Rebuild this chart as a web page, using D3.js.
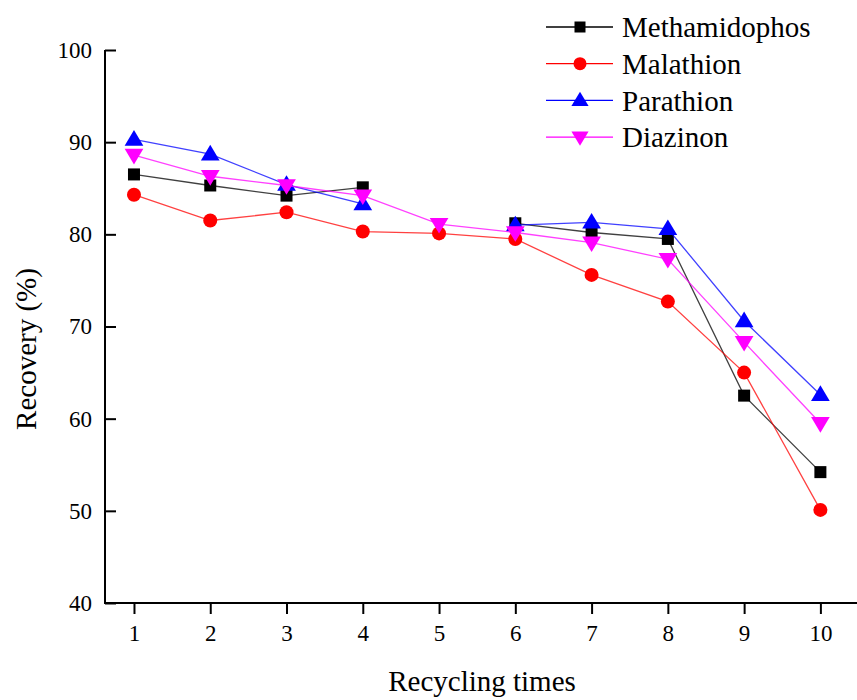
<!DOCTYPE html>
<html>
<head>
<meta charset="utf-8">
<title>Recovery vs recycling times</title>
<script src="https://d3js.org/d3.v7.min.js"></script>
<style>
  body { margin: 0; background: #fff; }
  svg text { font-family: "Liberation Serif", "Times New Roman", serif; fill: #000; }
  svg .tick text { font-size: 23px; }
</style>
</head>
<body>
<div id="chart"></div>
<script>
// values (null = no point plotted)
var cycles = [1, 2, 3, 4, 5, 6, 7, 8, 9, 10];
var methamidophos = [86.5, 85.3, 84.2, 85.1, null, 81.2, 80.2, 79.5, 62.5, 54.2];
var malathion     = [84.3, 81.5, 82.4, 80.3, 80.1, 79.5, 75.6, 72.7, 65.0, 50.1];
var parathion     = [90.3, 88.7, 85.4, 83.3, null, 81.0, 81.3, 80.6, 70.6, 62.6];
var diazinon      = [88.6, 86.3, 85.3, 84.2, 81.1, 80.2, 79.1, 77.3, 68.3, 59.5];
var yTicks = [40, 50, 60, 70, 80, 90, 100];

var series = [
  {name: "Methamidophos", values: methamidophos, color: "#000000", shape: "square"},
  {name: "Malathion",     values: malathion,     color: "#ff0000", shape: "circle"},
  {name: "Parathion",     values: parathion,     color: "#0000ff", shape: "up"},
  {name: "Diazinon",      values: diazinon,      color: "#ff00ff", shape: "down"}
];

var width = 857, height = 700;
var svg = d3.select("#chart").append("svg")
    .attr("width", width).attr("height", height);

var x = d3.scaleLinear().domain([0.62, 10.48]).range([105, 857]);
var y = d3.scaleLinear().domain([40, 100]).range([603, 50]);

// axes
var xAxis = d3.axisBottom(x).tickValues(cycles).tickSize(11).tickSizeOuter(0).tickPadding(11);
var yAxis = d3.axisLeft(y).tickValues(yTicks).tickSize(-11).tickSizeOuter(0).tickPadding(13);

var gx = svg.append("g").attr("transform", "translate(0,603)").call(xAxis);
var gy = svg.append("g").attr("transform", "translate(105,0)").call(yAxis);
[gx, gy].forEach(function(g) {
  g.attr("font-size", 23).attr("font-family", null);
  g.selectAll("path, line").attr("stroke", "#000").attr("stroke-width", 2);
  g.selectAll("text").attr("font-size", 23).attr("fill", "#000");
});
gx.select(".domain").attr("d", "M104,0H" + width);
gy.select(".domain").attr("d", "M0,50V604");

svg.append("text")
    .attr("x", 482).attr("y", 691)
    .attr("text-anchor", "middle")
    .style("font-size", "29px")
    .text("Recycling times");

svg.append("text")
    .attr("transform", "translate(36,349) rotate(-90)")
    .attr("text-anchor", "middle")
    .style("font-size", "29px")
    .text("Recovery (%)");

function marker(g, shape, color, s) {
  if (shape == "square") {
    g.append("rect").attr("x", -s / 2).attr("y", -s / 2).attr("width", s).attr("height", s).attr("fill", color);
  } else if (shape == "circle") {
    g.append("circle").attr("r", s / 2 + 1).attr("fill", color);
  } else if (shape == "up") {
    var h = s * 1.3;
    g.append("path").attr("d", "M0," + (-h * 0.6) + "L" + (h * 0.6) + "," + (h * 0.4) + "L" + (-h * 0.6) + "," + (h * 0.4) + "Z").attr("fill", color);
  } else {
    var h2 = s * 1.3;
    g.append("path").attr("d", "M0," + (h2 * 0.6) + "L" + (h2 * 0.6) + "," + (-h2 * 0.4) + "L" + (-h2 * 0.6) + "," + (-h2 * 0.4) + "Z").attr("fill", color);
  }
}

var line = d3.line()
    .defined(function(d) { return d.v != null; })
    .x(function(d) { return x(d.c); })
    .y(function(d) { return y(d.v); });

series.forEach(function(s) {
  var pts = cycles.map(function(c, i) { return {c: c, v: s.values[i]}; });
  var g = svg.append("g");
  g.append("path")
      .datum(pts)
      .attr("d", line)
      .attr("fill", "none")
      .attr("stroke", s.color)
      .attr("stroke-opacity", 0.75)
      .attr("stroke-width", 1.3);
  pts.filter(function(d) { return d.v != null; }).forEach(function(d) {
    var m = g.append("g").attr("transform", "translate(" + x(d.c) + "," + y(d.v) + ")");
    marker(m, s.shape, s.color, 12);
  });
});

// legend
var legend = svg.append("g");
series.forEach(function(s, i) {
  var yy = 27 + i * 36.7;
  legend.append("line")
      .attr("x1", 546).attr("x2", 613).attr("y1", yy).attr("y2", yy)
      .attr("stroke", s.color).attr("stroke-width", 1.3);
  var m = legend.append("g").attr("transform", "translate(580," + yy + ")");
  marker(m, s.shape, s.color, 11);
  legend.append("text")
      .attr("x", 622).attr("y", yy)
      .attr("dy", "0.35em")
      .style("font-size", "29px")
      .text(s.name);
});
</script>
</body>
</html>
